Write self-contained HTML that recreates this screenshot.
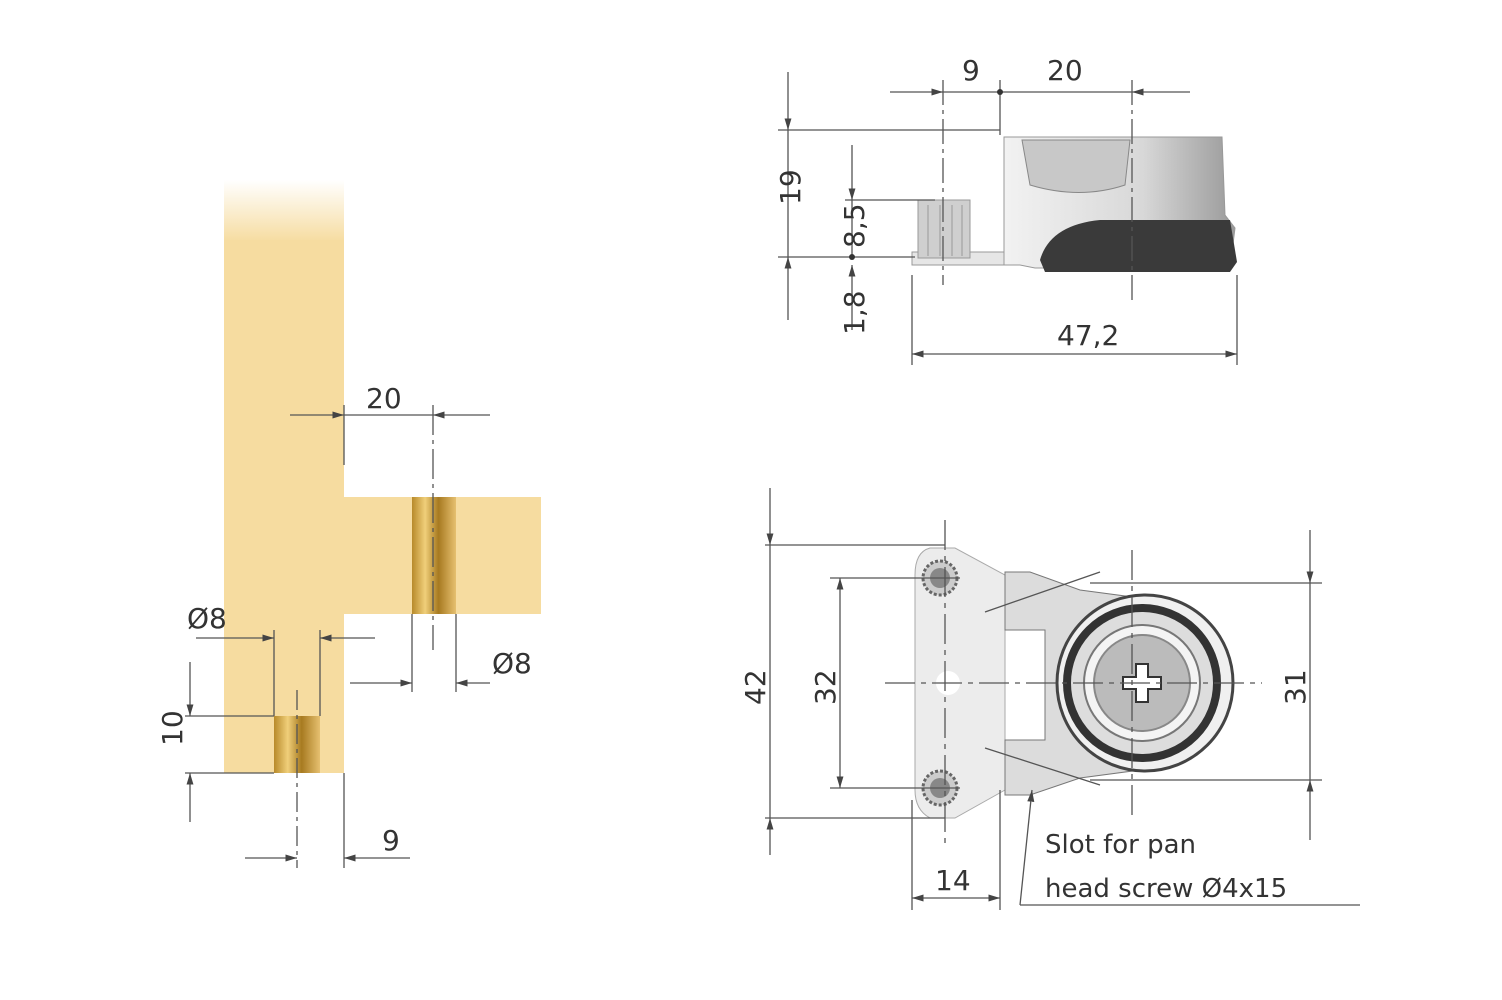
<!DOCTYPE html>
<html><head><meta charset="utf-8"><style>
html,body{margin:0;padding:0;background:#fff;}
svg{display:block;}
text{font-family:"DejaVu Sans","Liberation Sans",sans-serif;fill:#333;font-size:28px;}
</style></head><body>
<svg width="1502" height="1000" viewBox="0 0 1502 1000" xmlns="http://www.w3.org/2000/svg">
<defs>
<linearGradient id="fade" x1="0" y1="0" x2="0" y2="1">
<stop offset="0" stop-color="#f6dca0" stop-opacity="0"/>
<stop offset="1" stop-color="#f6dca0" stop-opacity="1"/>
</linearGradient>
<linearGradient id="dow" x1="0" y1="0" x2="1" y2="0">
<stop offset="0" stop-color="#b88a2a"/><stop offset="0.3" stop-color="#f0cf7a"/>
<stop offset="0.6" stop-color="#a77a20"/><stop offset="1" stop-color="#e6c070"/>
</linearGradient>
<linearGradient id="body" x1="0" y1="0" x2="1" y2="0">
<stop offset="0" stop-color="#f2f2f2"/><stop offset="0.6" stop-color="#d8d8d8"/><stop offset="1" stop-color="#9a9a9a"/>
</linearGradient>
<marker id="a" viewBox="0 0 10 10" refX="10" refY="5" markerWidth="9" markerHeight="9" orient="auto-start-reverse"><path d="M0,2 L10,5 L0,8z" fill="#444"/></marker>
</defs>
<g stroke="#555" stroke-width="1.3" fill="none">
<!-- LEFT boards -->
<rect x="224" y="240" width="120" height="533" fill="#f6dca0" stroke="none"/>
<rect x="224" y="180" width="120" height="62" fill="url(#fade)" stroke="none"/>
<rect x="344" y="497" width="197" height="117" fill="#f6dca0" stroke="none"/>
<rect x="412" y="497" width="44" height="117" fill="url(#dow)" stroke="none"/>
<rect x="274" y="716" width="46" height="57" fill="url(#dow)" stroke="none"/>
<!-- left dims -->
<line x1="290" y1="415" x2="344" y2="415" marker-end="url(#a)"/>
<line x1="344" y1="415" x2="433" y2="415"/>
<line x1="490" y1="415" x2="433" y2="415" marker-end="url(#a)"/>
<line x1="344" y1="405" x2="344" y2="465"/>
<line x1="433" y1="405" x2="433" y2="650" stroke-dasharray="30,5,4,5"/>
<line x1="196" y1="638" x2="274" y2="638" marker-end="url(#a)"/>
<line x1="375" y1="638" x2="320" y2="638" marker-end="url(#a)"/>
<line x1="274" y1="630" x2="274" y2="716"/><line x1="320" y1="630" x2="320" y2="716"/>
<line x1="350" y1="683" x2="412" y2="683" marker-end="url(#a)"/>
<line x1="490" y1="683" x2="456" y2="683" marker-end="url(#a)"/>
<line x1="412" y1="614" x2="412" y2="692"/><line x1="456" y1="614" x2="456" y2="692"/>
<line x1="190" y1="662" x2="190" y2="716" marker-end="url(#a)"/>
<line x1="190" y1="822" x2="190" y2="773" marker-end="url(#a)"/>
<line x1="185" y1="716" x2="274" y2="716"/><line x1="185" y1="773" x2="274" y2="773"/>
<line x1="297" y1="690" x2="297" y2="868" stroke-dasharray="20,5,4,5"/>
<line x1="344" y1="773" x2="344" y2="868"/>
<line x1="245" y1="858" x2="297" y2="858" marker-end="url(#a)"/>
<line x1="410" y1="858" x2="344" y2="858" marker-end="url(#a)"/>
</g>
<text x="366" y="408">20</text>
<text x="187" y="628">Ø8</text>
<text x="492" y="673">Ø8</text>
<text x="382" y="850">9</text>
<text transform="translate(182,746) rotate(-90)">10</text>

<!-- TOP RIGHT part -->
<rect x="912" y="252" width="120" height="13" fill="#e6e6e6" stroke="#999"/>
<rect x="918" y="200" width="52" height="58" fill="#cfcfcf" stroke="#999"/>
<g stroke="#999"><line x1="928" y1="205" x2="928" y2="256"/><line x1="940" y1="205" x2="940" y2="256"/><line x1="952" y1="205" x2="952" y2="256"/><line x1="962" y1="205" x2="962" y2="256"/></g>
<path d="M1004,137 L1222,137 L1225,215 L1235,228 L1230,268 L1035,268 L1020,265 L1004,265Z" fill="url(#body)" stroke="#999"/>
<path d="M1022,140 L1130,140 L1125,185 Q1080,200 1030,185Z" fill="#c8c8c8" stroke="#888"/>
<path d="M1040,260 Q1050,225 1100,220 L1230,220 L1237,262 L1230,272 L1045,272Z" fill="#3a3a3a"/>
<g stroke="#555" stroke-width="1.3" fill="none">
<line x1="788" y1="72" x2="788" y2="130" marker-end="url(#a)"/>
<line x1="788" y1="130" x2="788" y2="257"/>
<line x1="788" y1="320" x2="788" y2="257" marker-end="url(#a)"/>
<line x1="778" y1="130" x2="1000" y2="130"/>
<line x1="778" y1="257" x2="915" y2="257"/>
<line x1="852" y1="145" x2="852" y2="200" marker-end="url(#a)"/>
<line x1="852" y1="200" x2="852" y2="257"/>
<line x1="852" y1="330" x2="852" y2="265" marker-end="url(#a)"/>
<line x1="845" y1="200" x2="935" y2="200"/>
<line x1="890" y1="92" x2="943" y2="92" marker-end="url(#a)"/>
<line x1="943" y1="92" x2="1132" y2="92"/>
<line x1="1190" y1="92" x2="1132" y2="92" marker-end="url(#a)"/>
<line x1="943" y1="80" x2="943" y2="285" stroke-dasharray="25,5,4,5"/>
<line x1="1000" y1="80" x2="1000" y2="135"/>
<line x1="1132" y1="80" x2="1132" y2="305" stroke-dasharray="25,5,4,5"/>
<line x1="912" y1="275" x2="912" y2="365"/><line x1="1237" y1="275" x2="1237" y2="365"/>
<line x1="912" y1="354" x2="1237" y2="354" marker-start="url(#a)" marker-end="url(#a)"/>
</g>
<circle cx="852" cy="257" r="3" fill="#333"/>
<circle cx="1000" cy="92" r="3" fill="#333"/>
<text x="962" y="80">9</text>
<text x="1047" y="80">20</text>
<text x="1057" y="345">47,2</text>
<text transform="translate(800,205) rotate(-90)">19</text>
<text transform="translate(864,248) rotate(-90)">8,5</text>
<text transform="translate(864,335) rotate(-90)">1,8</text>

<!-- BOTTOM RIGHT part -->
<path d="M930,548 L955,548 L1005,575 L1005,790 L955,818 L930,818 Q915,810 915,790 L915,575 Q915,552 930,548Z" fill="#ececec" stroke="#aaa"/>
<path d="M1005,572 L1030,572 L1080,590 L1140,598 L1140,770 L1080,778 L1030,795 L1005,795 L1005,740 L1045,740 L1045,630 L1005,630Z" fill="#dcdcdc" stroke="#777"/>
<circle cx="1145" cy="683" r="88" fill="#f0f0f0" stroke="#444" stroke-width="3"/>
<circle cx="1142" cy="683" r="75" fill="#ddd" stroke="#333" stroke-width="8"/>
<circle cx="1142" cy="683" r="58" fill="#f4f4f4" stroke="#777" stroke-width="2"/>
<circle cx="1142" cy="683" r="48" fill="#bbb" stroke="#888" stroke-width="2"/>
<path d="M1136,664 h12 v13 h13 v12 h-13 v13 h-12 v-13 h-13 v-12 h13z" fill="#fff" stroke="#333" stroke-width="2"/>
<circle cx="940" cy="578" r="17" fill="#ccc" stroke="#666" stroke-width="3" stroke-dasharray="3,2"/>
<circle cx="940" cy="578" r="10" fill="#888"/>
<circle cx="940" cy="788" r="17" fill="#ccc" stroke="#666" stroke-width="3" stroke-dasharray="3,2"/>
<circle cx="940" cy="788" r="10" fill="#888"/>
<circle cx="948" cy="683" r="12" fill="#fff"/>
<g stroke="#555" stroke-width="1.3" fill="none">
<line x1="770" y1="488" x2="770" y2="545" marker-end="url(#a)"/>
<line x1="770" y1="545" x2="770" y2="818"/>
<line x1="770" y1="855" x2="770" y2="818" marker-end="url(#a)"/>
<line x1="765" y1="545" x2="945" y2="545"/><line x1="765" y1="818" x2="945" y2="818"/>
<line x1="840" y1="578" x2="840" y2="788" marker-start="url(#a)" marker-end="url(#a)"/>
<line x1="830" y1="578" x2="960" y2="578"/><line x1="830" y1="788" x2="960" y2="788"/>
<line x1="1310" y1="530" x2="1310" y2="583" marker-end="url(#a)"/>
<line x1="1310" y1="583" x2="1310" y2="780"/>
<line x1="1310" y1="840" x2="1310" y2="780" marker-end="url(#a)"/>
<line x1="1090" y1="583" x2="1322" y2="583"/><line x1="1090" y1="780" x2="1322" y2="780"/>
<line x1="885" y1="683" x2="1262" y2="683" stroke-dasharray="30,6,5,6"/>
<line x1="945" y1="520" x2="945" y2="845" stroke-dasharray="30,6,5,6"/>
<line x1="1132" y1="550" x2="1132" y2="820" stroke-dasharray="30,6,5,6"/>
<line x1="912" y1="800" x2="912" y2="910"/><line x1="1000" y1="790" x2="1000" y2="910"/>
<line x1="912" y1="898" x2="1000" y2="898" marker-start="url(#a)" marker-end="url(#a)"/>
<line x1="1020" y1="905" x2="1032" y2="790" marker-end="url(#a)"/>
<line x1="1020" y1="905" x2="1360" y2="905"/>
<line x1="985" y1="612" x2="1100" y2="572"/><line x1="985" y1="748" x2="1100" y2="785"/>
</g>
<text transform="translate(765,705) rotate(-90)">42</text>
<text transform="translate(835,705) rotate(-90)">32</text>
<text transform="translate(1305,705) rotate(-90)">31</text>
<text x="935" y="890">14</text>
<text x="1045" y="853" style="font-size:26px">Slot for pan</text>
<text x="1045" y="897" style="font-size:26px">head screw Ø4x15</text>
</svg>
</body></html>
